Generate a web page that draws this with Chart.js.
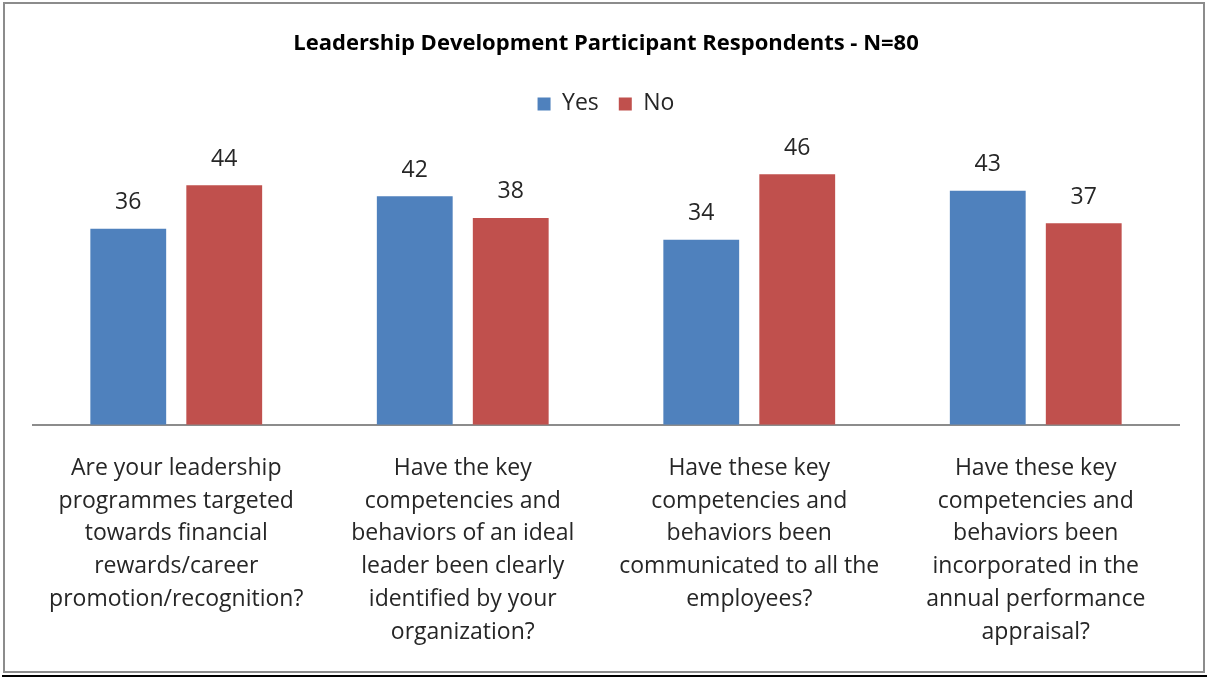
<!DOCTYPE html>
<html lang="en">
<head>
    <meta charset="UTF-8">
    <title>Leadership Development Participant Respondents</title>
    <script src="https://cdn.jsdelivr.net/npm/chart.js"></script>
    <style>
        body {
            margin: 0;
            background: #fff;
        }
        #chart-container {
            position: relative;
            width: 1207px;
            height: 678px;
        }
    </style>
</head>
<body>

<div id="chart-container">
    <canvas id="surveyChart"></canvas>
</div>

<script>
    // Survey questions (one per group of bars)
    const questions = [
        ['Are your leadership', 'programmes targeted', 'towards financial', 'rewards/career', 'promotion/recognition?'],
        ['Have the key', 'competencies and', 'behaviors of an ideal', 'leader been clearly', 'identified by your', 'organization?'],
        ['Have these key', 'competencies and', 'behaviors been', 'communicated to all the', 'employees?'],
        ['Have these key', 'competencies and', 'behaviors been', 'incorporated in the', 'annual performance', 'appraisal?']
    ];

    const yesCounts = [36, 42, 34, 43];
    const noCounts = [44, 38, 46, 37];

    const FONT = '"Open Sans", Lato, sans-serif';

    // Gray outer frame with a dark rule underneath
    const framePlugin = {
        id: 'frame',
        beforeDraw(chart) {
            const c = chart.ctx;
            c.save();
            c.fillStyle = '#fff';
            c.fillRect(0, 0, chart.width, chart.height);
            c.strokeStyle = '#8c8c8c';
            c.lineWidth = 2;
            c.strokeRect(4, 3, 1200, 669);
            c.strokeStyle = '#000';
            c.beginPath();
            c.moveTo(2, 676);
            c.lineTo(chart.width, 676);
            c.stroke();
            c.restore();
        }
    };

    // Value printed above each bar
    const valueLabels = {
        id: 'valueLabels',
        afterDatasetsDraw(chart) {
            const c = chart.ctx;
            c.save();
            c.font = '23px ' + FONT;
            c.fillStyle = '#262626';
            c.textAlign = 'center';
            c.textBaseline = 'middle';
            chart.data.datasets.forEach((ds, i) => {
                chart.getDatasetMeta(i).data.forEach((bar, j) => {
                    c.fillText(ds.data[j], bar.x, bar.y - 26);
                });
            });
            c.restore();
        }
    };

    const ctx = document.getElementById('surveyChart').getContext('2d');
    new Chart(ctx, {
        type: 'bar',
        data: {
            labels: questions,
            datasets: [{
                label: 'Yes',
                data: yesCounts,
                backgroundColor: '#4f81bd'
            }, {
                label: 'No',
                data: noCounts,
                backgroundColor: '#c0504d'
            }]
        },
        options: {
            responsive: true,
            maintainAspectRatio: false,
            animation: false,
            categoryPercentage: 0.67,
            barPercentage: 0.79,
            layout: {
                padding: { left: 33, right: 28, top: 0, bottom: 10 }
            },
            plugins: {
                title: {
                    display: true,
                    text: 'Leadership Development Participant Respondents - N=80',
                    color: '#000',
                    font: { family: FONT, size: 22, weight: 'bold' },
                    padding: { top: 31, bottom: 15 }
                },
                legend: {
                    display: true,
                    labels: {
                        color: '#262626',
                        font: { family: FONT, size: 23 },
                        boxWidth: 13,
                        boxHeight: 13,
                        padding: 20
                    }
                },
                tooltip: { enabled: false }
            },
            scales: {
                x: {
                    grid: { display: false },
                    border: { display: true, color: '#8c8c8c', width: 2 },
                    ticks: {
                        color: '#262626',
                        font: { family: FONT, size: 23, lineHeight: 1.43 },
                        padding: 19,
                        maxRotation: 0,
                        autoSkip: false
                    }
                },
                y: {
                    display: false,
                    min: 0,
                    max: 55
                }
            }
        },
        plugins: [framePlugin, valueLabels]
    });
</script>

</body>
</html>
